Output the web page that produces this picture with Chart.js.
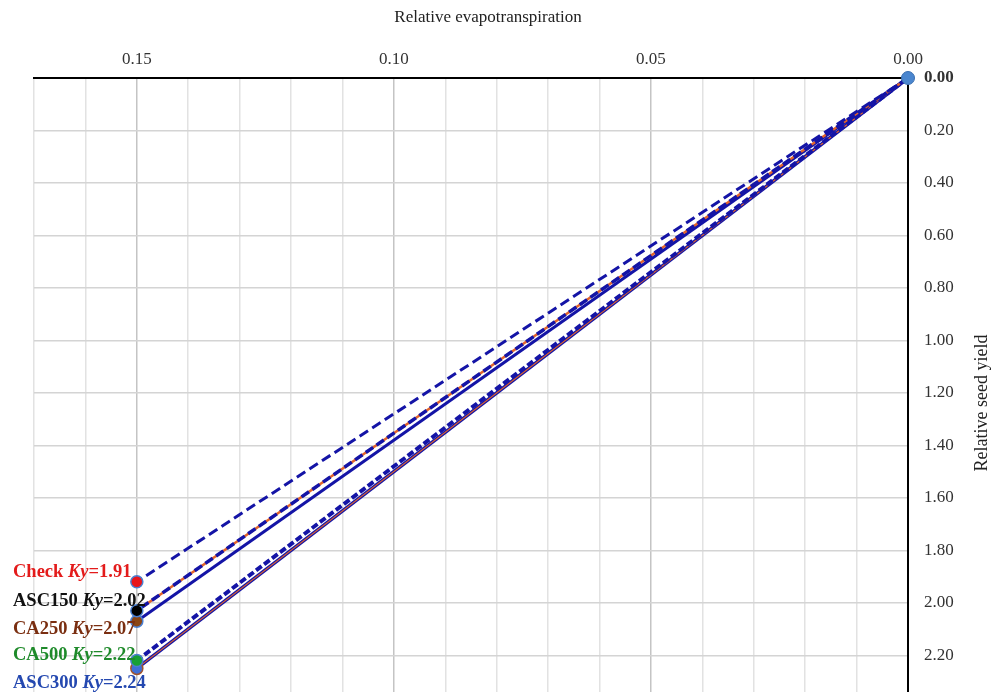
<!DOCTYPE html>
<html lang="en">
<head>
    <meta charset="UTF-8">
    <title>Relative seed yield vs relative evapotranspiration</title>
    <style>
        body {
            margin: 0;
            padding: 0;
            background-color: #ffffff;
        }

        .chart-box {
            width: 998px;
            height: 692px;
            position: relative;
        }
    </style>
</head>
<body>
    <div class="chart-box">
        <canvas id="kyChart"></canvas>
    </div>

    <script src="https://cdn.jsdelivr.net/npm/chart.js"></script>
    <script>
        // Data
        const seriesNames = ['Check', 'ASC150', 'CA250', 'CA500', 'ASC300'];
        const kyValues = ['1.91', '2.02', '2.07', '2.22', '2.24'];
        const startET = 0.00;
        const startYield = 0.00;
        const endET = 0.15;
        const endYield = [1.92, 2.03, 2.07, 2.22, 2.25];
        const xTickStep = 0.01;
        const yTickStep = 0.2;

        const serif = '"Liberation Serif", "Times New Roman", serif';
        const navy = '#1414a6';
        const orange = '#e2642a';

        // label colours and marker colours per series
        const labelColors = ['#e31b1b', '#111111', '#7a2e10', '#1e8a2a', '#2448b0'];
        const markerFill = ['#e8161b', '#000000', '#8b4513', '#17a035', '#3f6fd6'];
        const markerBorder = ['#4a7fd0', '#4a7fd0', '#4a7fd0', '#4a7fd0', '#a0522d'];
        // vertical shift of each label from its marker (px)
        const labelShift = [-5, -5, 13, -1, 20];

        function lineData(i) {
            return [{ x: startET, y: startYield }, { x: endET, y: endYield[i] }];
        }

        function endMarker(i) {
            return ctx => ctx.dataIndex === 1 ? 6 : 0;
        }

        const datasets = [
            // origin point, on top of everything
            {
                data: [{ x: startET, y: startYield }],
                showLine: false,
                pointRadius: 6.5,
                pointBackgroundColor: '#4a86cf',
                pointBorderColor: '#3a6fb0',
                order: 0
            },
            // Check
            {
                data: lineData(0),
                borderColor: navy,
                borderWidth: 3,
                borderDash: [10, 5],
                pointRadius: endMarker(0),
                pointBackgroundColor: markerFill[0],
                pointBorderColor: markerBorder[0],
                pointBorderWidth: 1.5,
                order: 1
            },
            // ASC150: navy dashes over orange
            {
                data: lineData(1),
                borderColor: navy,
                borderWidth: 3.5,
                borderDash: [9, 4],
                pointRadius: endMarker(1),
                pointBackgroundColor: markerFill[1],
                pointBorderColor: markerBorder[1],
                pointBorderWidth: 1.5,
                order: 2
            },
            {
                data: lineData(1),
                borderColor: orange,
                borderWidth: 2.5,
                pointRadius: 0,
                order: 3
            },
            // CA250
            {
                data: lineData(2),
                borderColor: navy,
                borderWidth: 3,
                pointRadius: endMarker(2),
                pointBackgroundColor: markerFill[2],
                pointBorderColor: markerBorder[2],
                pointBorderWidth: 1.5,
                order: 4
            },
            // CA500
            {
                data: lineData(3),
                borderColor: navy,
                borderWidth: 4,
                borderDash: [7, 3],
                pointRadius: endMarker(3),
                pointBackgroundColor: markerFill[3],
                pointBorderColor: markerBorder[3],
                pointBorderWidth: 1.5,
                order: 5
            },
            // ASC300: navy with thin orange core
            {
                data: lineData(4),
                borderColor: orange,
                borderWidth: 1.2,
                pointRadius: endMarker(4),
                pointBackgroundColor: markerFill[4],
                pointBorderColor: markerBorder[4],
                pointBorderWidth: 1.5,
                order: 6
            },
            {
                data: lineData(4),
                borderColor: navy,
                borderWidth: 3.6,
                pointRadius: 0,
                order: 7
            }
        ];
        datasets.forEach(d => { d.clip = false; });

        // axis titles and Ky labels
        const textPlugin = {
            id: 'textPlugin',
            afterDraw(chart) {
                const ctx = chart.ctx;
                const area = chart.chartArea;
                const y = chart.scales.y;
                ctx.save();

                ctx.fillStyle = '#222';
                ctx.font = '17px ' + serif;
                ctx.textAlign = 'center';
                ctx.textBaseline = 'middle';
                ctx.fillText('Relative evapotranspiration', 488, 18);

                ctx.font = '18px ' + serif;
                ctx.translate(982, 403);
                ctx.rotate(-Math.PI / 2);
                ctx.fillText('Relative seed yield', 0, 0);
                ctx.restore();

                ctx.save();
                ctx.textAlign = 'left';
                ctx.textBaseline = 'alphabetic';
                seriesNames.forEach((name, i) => {
                    const baseY = y.getPixelForValue(endYield[i]) + labelShift[i];
                    let px = area.left - 21;
                    const parts = [
                        [name + ' ', 'bold'],
                        ['Ky', 'italic bold'],
                        ['=' + kyValues[i], 'bold']
                    ];
                    ctx.fillStyle = labelColors[i];
                    parts.forEach(p => {
                        ctx.font = p[1] + ' 18.5px ' + serif;
                        ctx.fillText(p[0], px, baseY);
                        px += ctx.measureText(p[0]).width;
                    });
                });
                ctx.restore();
            }
        };

        function isMultiple(v, step) {
            const r = v / step;
            return Math.abs(r - Math.round(r)) < 1e-6;
        }

        new Chart(document.getElementById('kyChart'), {
            type: 'line',
            data: { datasets: datasets },
            options: {
                responsive: true,
                maintainAspectRatio: false,
                animation: false,
                layout: {
                    autoPadding: false,
                    padding: { left: 34, top: 0, right: 0, bottom: 0 }
                },
                plugins: {
                    legend: { display: false },
                    tooltip: { enabled: false }
                },
                elements: {
                    line: { tension: 0 }
                },
                scales: {
                    x: {
                        type: 'linear',
                        position: 'top',
                        reverse: true,
                        min: 0,
                        max: 0.17,
                        afterBuildTicks: scale => {
                            scale.ticks = scale.ticks.filter(t => isMultiple(t.value, xTickStep));
                        },
                        afterFit: scale => {
                            scale.height = 78;
                            scale.paddingLeft = 0;
                            scale.paddingRight = 0;
                        },
                        ticks: {
                            stepSize: xTickStep,
                            autoSkip: false,
                            maxRotation: 0,
                            padding: 8,
                            color: '#333',
                            font: { family: serif, size: 17 },
                            callback: v => isMultiple(v, 0.05) ? v.toFixed(2) : ''
                        },
                        grid: {
                            drawTicks: false,
                            lineWidth: 1.5,
                            color: ctx => ctx.tick && isMultiple(ctx.tick.value, 0.05) ? '#c4c4c4' : '#e2e2e2'
                        },
                        border: { display: true, color: '#000', width: 2 }
                    },
                    y: {
                        type: 'linear',
                        position: 'right',
                        reverse: true,
                        min: 0,
                        max: 2.34,
                        afterBuildTicks: scale => {
                            scale.ticks = scale.ticks.filter(t => isMultiple(t.value, yTickStep));
                        },
                        afterFit: scale => {
                            scale.width = 90;
                            scale.paddingTop = 0;
                            scale.paddingBottom = 0;
                        },
                        ticks: {
                            stepSize: yTickStep,
                            padding: 16,
                            color: '#333',
                            font: ctx => ({
                                family: serif,
                                size: 17,
                                weight: ctx.tick && ctx.tick.value === 0 ? 'bold' : 'normal'
                            }),
                            callback: v => v.toFixed(2)
                        },
                        grid: {
                            drawTicks: false,
                            lineWidth: 1.5,
                            color: '#d4d4d4'
                        },
                        border: { display: true, color: '#000', width: 2 }
                    }
                }
            },
            plugins: [textPlugin]
        });
    </script>
</body>
</html>
